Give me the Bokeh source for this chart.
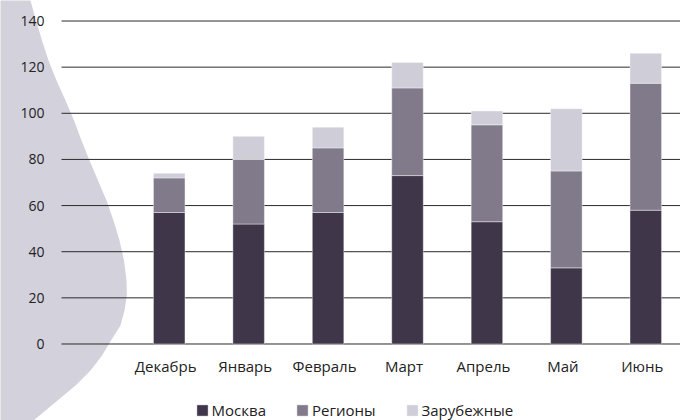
from bokeh.plotting import figure
from bokeh.models import Range1d, ColumnDataSource, PolyAnnotation
from bokeh.core.properties import value
from bokeh.embed import file_html
from bokeh.resources import INLINE

# ---- data ----
months = ["Декабрь", "Январь", "Февраль", "Март", "Апрель", "Май", "Июнь"]
moscow = [57, 52, 57, 73, 53, 33, 58]
regions = [15, 28, 28, 38, 42, 42, 55]
foreign = [2, 10, 9, 11, 6, 27, 13]
series = ["Москва", "Регионы", "Зарубежные"]
y_ticks = [0, 20, 40, 60, 80, 100, 120, 140]

colors = ["#3F3649", "#817A8B", "#CFCDD8"]
FONT = "Open Sans"
TEXT = "#222222"
W, H = 680, 420
DIGIT_W = 8.0         # width of one Open Sans digit at 14px

# value-axis extent: the frame covers the whole canvas
X0, X1 = -2.124, 6.437
Y0, Y1 = -33.16, 148.89
GRID_LEFT = -1.356    # where the horizontal rules begin
LABEL_X = -1.570      # right edge of the value labels

p = figure(width=W, height=H, x_range=Range1d(X0, X1), y_range=Range1d(Y0, Y1),
           x_axis_type=None, y_axis_type=None, output_backend="svg",
           toolbar_location=None, min_border=0)
p.outline_line_color = None
p.grid.visible = False
p.background_fill_color = "white"
p.border_fill_color = "white"

# decorative drop shape (canvas pixels)
shape_pts = [(27, -10), (30, 0), (35.5, 20), (41.5, 40), (48, 60), (56, 80), (65, 100),
             (73.5, 120), (81, 140), (89, 160), (97.5, 180), (106, 200), (113, 220),
             (119, 240), (123.5, 260), (126, 280), (126.3, 295), (124, 310), (120, 325),
             (110.5, 340), (101.5, 355), (90, 370), (75, 385), (57, 400), (45, 410),
             (33, 420), (15, 435), (-10, 450), (-10, -10)]
p.add_layout(PolyAnnotation(xs=[a for a, b in shape_pts], ys=[b for a, b in shape_pts],
                            xs_units="canvas", ys_units="canvas",
                            fill_color="#D3D1DB", fill_alpha=1.0, line_color=None,
                            level="image"))

# horizontal rules
p.segment(x0=[GRID_LEFT] * len(y_ticks), x1=[X1] * len(y_ticks), y0=y_ticks, y1=y_ticks,
          line_color="#2a2a2a", line_width=1)

# bars
src = ColumnDataSource(dict(x=list(range(len(months))),
                            **{series[0]: moscow, series[1]: regions, series[2]: foreign}))
p.vbar_stack(series, x="x", width=0.397, source=src, color=colors,
             line_color="white", line_width=0.8, line_alpha=0.5,
             legend_label=series)

# value labels: left-aligned text shifted by its digit count so they end flush right
tick_text = [str(t) for t in y_ticks]
tick_src = ColumnDataSource(dict(x=[LABEL_X] * len(y_ticks), y=y_ticks, t=tick_text,
                                 dx=[-DIGIT_W * len(s) for s in tick_text]))
p.text(x="x", y="y", text="t", x_offset="dx", source=tick_src,
       text_align="left", text_baseline="middle",
       text_font=value(FONT), text_font_size="14px", text_color=TEXT)
# category labels
p.text(x=list(range(len(months))), y=[0] * len(months), text=months,
       x_offset=-3.5, y_offset=22.5, text_align="center", text_baseline="middle",
       text_font=value(FONT), text_font_size="15px", text_color=TEXT)

lg = p.legend[0]
lg.orientation = "horizontal"
lg.location = (194.6, 0)
lg.label_text_font = FONT
lg.label_text_font_size = "15px"
lg.label_text_color = TEXT
lg.glyph_width = 14
lg.glyph_height = 14
lg.label_standoff = 3
lg.spacing = 29
lg.padding = 0
lg.margin = 0
lg.border_line_color = None
lg.background_fill_alpha = 0

open("out.html", "w").write(file_html(p, INLINE))
